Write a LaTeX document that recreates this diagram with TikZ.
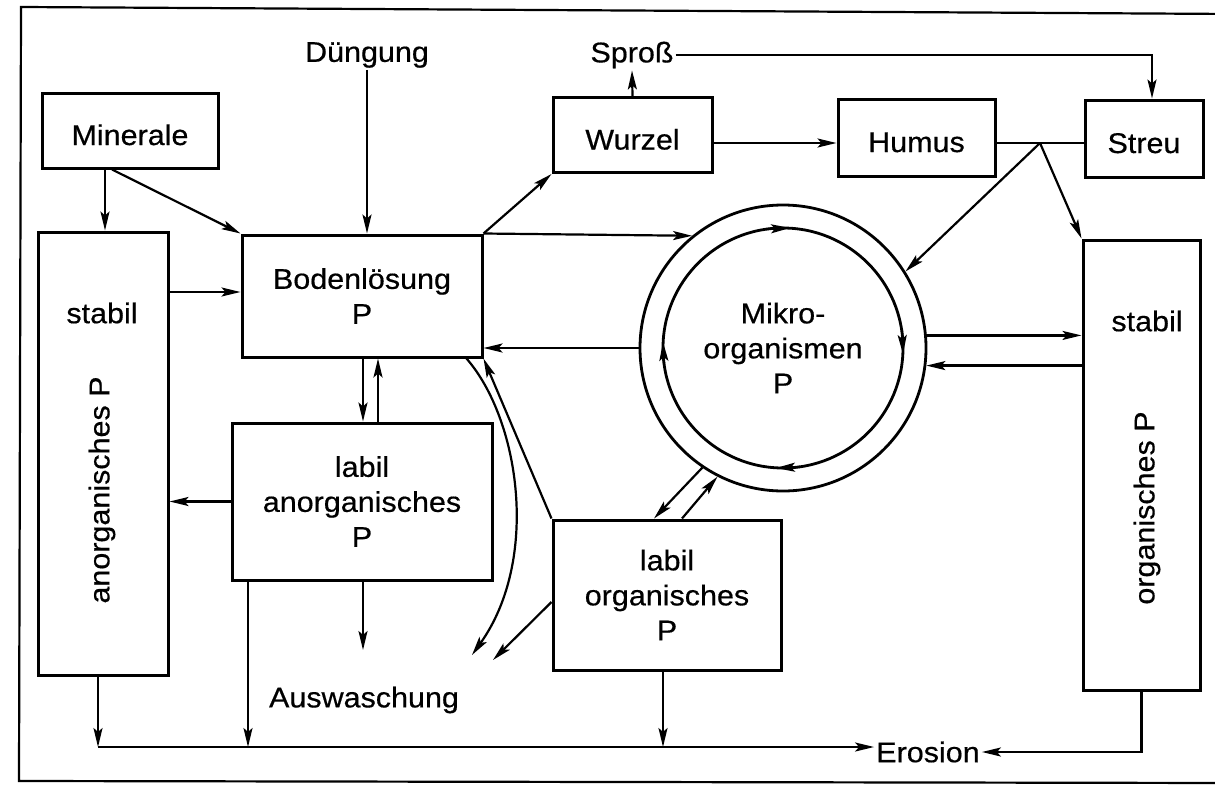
\documentclass[tikz,border=0pt]{standalone}
\usepackage{fontspec}
\setmainfont{Liberation Sans}[FakeStretch=1.07,FakeBold=0.5]
\usetikzlibrary{arrows.meta,calc}
\newcommand\dfont{\fontsize{28.5}{35}\selectfont}
\begin{document}
\begin{tikzpicture}[x=1pt,y=-1pt,
  box/.style={draw, line width=3pt, inner sep=0pt, align=center, font=\dfont},
  one/.style={text height=29pt, text depth=0pt},
  txt/.style={inner sep=2pt, align=center, font=\dfont},
  flow/.style={line width=2.2pt, -{Stealth[length=19pt,width=9pt,inset=4pt]}},
  plain/.style={line width=2.2pt},
  ring/.style={draw, circle, line width=2.8pt, inner sep=0pt},
]
\useasboundingbox (0,0) rectangle (1215,787);
\clip (0,0) rectangle (1215,787);
% outer frame
\draw[line width=2.2pt] (21,7) -- (1235,14) -- (1235,783) -- (19,781) -- cycle;

% boxes
\node[box,one,minimum width=176pt,minimum height=75pt] (mineral) at (130,130.5) {Minerale};
\node[box,minimum width=240pt,minimum height=122pt] (boden) at (362,296) {Bodenlösung\\P};
\node[box,one,minimum width=159pt,minimum height=75pt] (wurzel) at (632.5,135) {Wurzel};
\node[box,one,minimum width=157pt,minimum height=77pt] (humus) at (916.5,137.5) {Humus};
\node[box,one,minimum width=118pt,minimum height=77pt] (streu) at (1144,138.5) {Streu};

\node[box,minimum width=130pt,minimum height=443pt] (sanorg) at (103,453.5) {};
\node[txt] (sanorgA) at (102,313) {stabil};
\node[txt,rotate=90] (sanorgB) at (102,490) {anorganisches P};

\node[box,minimum width=260pt,minimum height=157pt] (lanorg) at (362,501.5) {labil\\anorganisches\\P};
\node[box,minimum width=228pt,minimum height=150pt] (lorg) at (667,595) {labil\\organisches\\P};

\node[box,minimum width=117pt,minimum height=450pt] (storg) at (1141.5,465) {};
\node[txt] (storgA) at (1147,321) {stabil};
\node[txt,rotate=90] (storgB) at (1147,508) {organisches P};

% microbial pool: double ring
\node[ring,minimum size=286pt] (mikro) at (783,348) {};
\node[ring,minimum size=240pt,font=\dfont,align=center] (mikroin) at (783,348) {Mikro-\\organismen\\P};

% free labels
\node[txt] (dung) at (367,55) {Düngung};
\node[txt] (spross) at (632,55) {Sproß};
\node[txt] (ausw) at (364,700) {Auswaschung};
\node[txt] (erosion) at (928,752) {Erosion};

% junctions and free ends
\coordinate (J) at (1040,143);
\coordinate (auswtip) at (363,650);
\coordinate (aus1) at (472,655);
\coordinate (aus2) at (493,660);
\coordinate (e0) at (98,747);
\coordinate (e1) at (248,747);
\coordinate (e2) at (663,747);

% inputs
\draw[flow] (dung.south) -- (dung.south |- boden.north);
\draw[flow] ([xshift=-25pt]mineral.south) -- ([xshift=-25pt]mineral.south |- sanorg.north);
\draw[flow] ([xshift=-18pt]mineral.south) -- (boden.north west);

% inorganic exchange
\draw[flow] ([yshift=4pt]boden.west -| sanorg.east) -- ([yshift=4pt]boden.west);
\draw[flow] (lanorg.west) -- (lanorg.west -| sanorg.east);
\draw[flow] ([xshift=1pt]boden.south) -- ([xshift=1pt]boden.south |- lanorg.north);
\draw[flow] ([xshift=16pt]lanorg.north) -- ([xshift=16pt]lanorg.north |- boden.south);
\draw[flow] ([xshift=1pt]lanorg.south) -- (auswtip);

% plant and litter
\draw[flow] (boden.north east) -- (wurzel.south west);
\draw[flow] (wurzel.north) -- (spross.south);
\draw[flow] (spross.east) -| ([xshift=8pt]streu.north);
\draw[flow] (wurzel.east |- J) -- (humus.west |- J);
\draw[plain] (humus.east |- J) -- (streu.west |- J);
\draw[flow] (J) -- (mikro.32);
\draw[flow] (J) -- (storg.north west);

% microbial exchange
\draw[flow] (boden.north east) -- (mikro.129);
\draw[flow] (mikro.west) -- (mikro.west -| boden.east);
\draw[flow] (mikro.5) -- (mikro.5 -| storg.west);
\draw[flow] (mikro.-7 -| storg.west) -- (mikro.-7);
\draw[flow] (mikro.236) -- ([xshift=-13pt]lorg.north);
\draw[flow] ([xshift=15pt]lorg.north) -- (mikro.243);

% internal turnover arrows on the inner ring
\draw[flow] (766,229) -- (790,228);
\draw[flow] (902,330) -- (903,354);
\draw[flow] (800,467) -- (776,468);
\draw[flow] (664,364) -- (663,342);

% labile organic P and leaching
\draw[flow] (lorg.north west) -- (boden.south east);
\draw[flow] ([xshift=-17pt]boden.south east) .. controls (520,420) and (540,560) .. (aus1);
\draw[flow] ([yshift=-7pt]lorg.west) -- (aus2);

% erosion
\draw[flow] (e0 |- sanorg.south) -- (e0);
\draw[flow] (e1 |- lanorg.south) -- (e1);
\draw[flow] (e2 |- lorg.south) -- (e2);
\draw[flow] (e0) -- (e0 -| erosion.west);
\draw[flow] (storg.south) |- (erosion.east);
\end{tikzpicture}
\end{document}
